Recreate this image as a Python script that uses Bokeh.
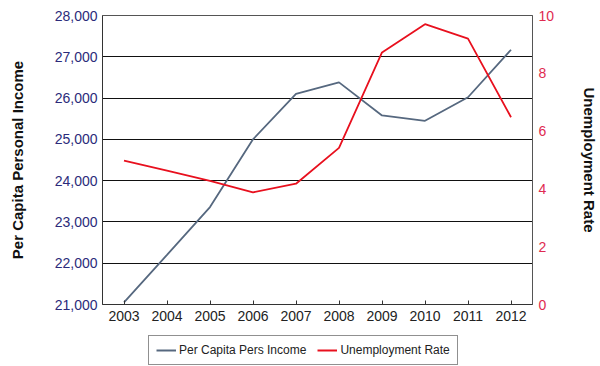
from bokeh.plotting import figure
from bokeh.layouts import column
from bokeh.models import Range1d, LinearAxis, NumeralTickFormatter, Legend, LegendItem, FixedTicker
from bokeh.embed import file_html
from bokeh.resources import INLINE

years = [2003, 2004, 2005, 2006, 2007, 2008, 2009, 2010, 2011, 2012]
income = [21050, 22200, 23360, 25000, 26100, 26380, 25580, 25450, 26020, 27170]
unemployment = [4.98, 4.63, 4.28, 3.88, 4.18, 5.42, 8.72, 9.70, 9.20, 6.48]
series_labels = ["Per Capita Pers Income", "Unemployment Rate"]

FONT = "Liberation Sans"
INCOME_COLOR = "#56687f"
UNEMP_COLOR = "#e8101e"

p = figure(frame_width=430, frame_height=289, output_backend="svg", toolbar_location=None,
           x_range=Range1d(2002.5, 2012.5), y_range=Range1d(21000, 28000),
           min_border_left=102, min_border_right=68, min_border_top=15, min_border_bottom=26)
p.background_fill_color = "white"
p.border_fill_color = "white"
p.outline_line_color = "#555555"
p.outline_line_width = 1

p.extra_y_ranges = {"u": Range1d(0, 10)}

# x axis
p.xaxis.ticker = FixedTicker(ticks=years)
p.xaxis.minor_tick_line_color = None
p.xaxis.major_tick_in = 4
p.xaxis.major_tick_out = 0
p.xaxis.major_tick_line_color = "#333333"
p.xaxis.axis_line_color = "#333333"
p.xaxis.major_label_text_font = FONT
p.xaxis.major_label_text_font_size = "14px"
p.xaxis.major_label_text_color = "#222222"
p.xaxis.major_label_standoff = 6

# left axis
p.yaxis.ticker = FixedTicker(ticks=list(range(21000, 28001, 1000)))
p.yaxis.formatter = NumeralTickFormatter(format="0,0")
p.yaxis.minor_tick_line_color = None
p.yaxis.major_tick_in = 0
p.yaxis.major_tick_out = 0
p.yaxis.axis_line_color = "#333333"
p.yaxis.major_label_text_font = FONT
p.yaxis.major_label_text_font_size = "14px"
p.yaxis.major_label_text_color = "#2b2b7a"
p.yaxis.major_label_standoff = 5
p.yaxis.axis_label = "Per Capita Personal Income"
p.yaxis.axis_label_text_font = FONT
p.yaxis.axis_label_text_font_style = "bold"
p.yaxis.axis_label_text_font_size = "15px"
p.yaxis.axis_label_text_color = "#111111"
p.yaxis.axis_label_standoff = 26

# right axis
ra = LinearAxis(y_range_name="u", ticker=FixedTicker(ticks=[0, 2, 4, 6, 8, 10]))
ra.minor_tick_line_color = None
ra.major_tick_in = 0
ra.major_tick_out = 0
ra.axis_line_color = "#555555"
ra.major_label_text_font = FONT
ra.major_label_text_font_size = "14px"
ra.major_label_text_color = "#e02a50"
ra.major_label_standoff = 6
ra.axis_label = "Unemployment Rate"
ra.axis_label_text_font = FONT
ra.axis_label_text_font_style = "bold"
ra.axis_label_text_font_size = "15px"
ra.axis_label_text_color = "#111111"
ra.axis_label_standoff = 24
p.add_layout(ra, "right")

p.xgrid.grid_line_color = None
p.ygrid.grid_line_color = "#111111"
p.ygrid.grid_line_width = 1

p.line(years, income, line_color=INCOME_COLOR, line_width=1.8)
p.line(years, unemployment, line_color=UNEMP_COLOR, line_width=1.8, y_range_name="u")

# legend strip below the chart (its frame is aligned with the chart's frame)
lg = figure(width=600, height=36, output_backend="svg", toolbar_location=None,
            x_range=Range1d(0, 1), y_range=Range1d(0, 1),
            x_axis_type=None, y_axis_type=None, min_border=0)
lg.outline_line_color = None
lg.xgrid.grid_line_color = None
lg.ygrid.grid_line_color = None
lg.background_fill_color = "white"
lg.border_fill_color = "white"
k1 = lg.line(x=[-10, -9], y=[-10, -9], line_color=INCOME_COLOR, line_width=2)
k2 = lg.line(x=[-10, -9], y=[-10, -9], line_color=UNEMP_COLOR, line_width=2)

legend = Legend(items=[LegendItem(label=series_labels[0], renderers=[k1]),
                       LegendItem(label=series_labels[1], renderers=[k2])],
                orientation="horizontal", location=(46, 1))
legend.label_text_font = FONT
legend.label_text_font_size = "12px"
legend.label_text_color = "#222222"
legend.border_line_color = "#222222"
legend.border_line_width = 1
legend.glyph_width = 20
legend.label_standoff = 3
legend.spacing = 11
legend.padding = 7
legend.margin = 0
legend.label_height = 14
legend.glyph_height = 14
lg.add_layout(legend, "center")

layout = column(p, lg, spacing=0)
open("out.html", "w").write(file_html(layout, INLINE))
